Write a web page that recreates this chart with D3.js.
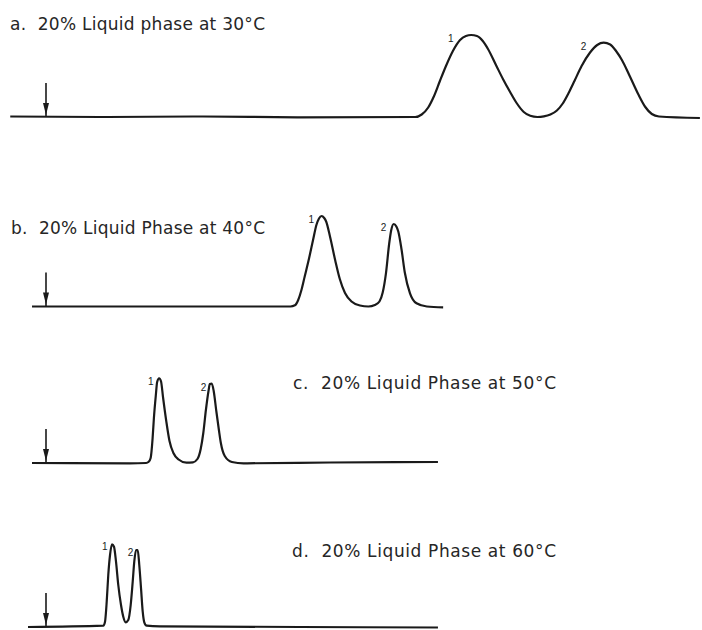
<!DOCTYPE html>
<html>
<head>
<meta charset="utf-8">
<script src="https://cdn.jsdelivr.net/npm/d3@7"></script>
<style>
  body { margin: 0; background: #fff; }
  svg { display: block; }
  .trace { fill: none; stroke: #1a1a1a; stroke-width: 2.2; stroke-linejoin: round; }
  .title { font-family: "DejaVu Sans", "Liberation Sans", sans-serif; font-size: 17px; fill: #262626; }
  .peak { font-family: "Liberation Sans", Arial, sans-serif; font-size: 10px; fill: #222; }
</style>
</head>
<body>
<svg id="chart"></svg>
<script>
// Four chromatograms of the same mixture, column temperature raised 30 -> 60 C
// time axis is arbitrary (same for all four), signal is detector response

const titles = [
  "a.  20% Liquid phase at 30°C",
  "b.  20% Liquid Phase at 40°C",
  "c.  20% Liquid Phase at 50°C",
  "d.  20% Liquid Phase at 60°C"
];

// a. 30 C
const timeA = [-5.5, 8.3, 23.7, 39.1, 56.8, 57.8, 58.8, 59.7, 60.6, 61.6, 62.6, 63.7, 64.6, 65.4, 66.3, 67.2,
  68.0, 69.3, 70.3, 71.4, 72.4, 73.5, 74.5, 75.6, 76.6, 77.6, 78.6, 79.5, 80.4, 81.3, 82.4, 83.7, 84.8, 85.8,
  86.8, 87.7, 88.6, 89.8, 91.1, 92.2, 93.2, 94.3, 100.6];
const signalA = [0.5, 0, 0.5, -0.3, 0, 2.5, 9.5, 21, 36, 52, 66, 77, 81, 82, 81, 76,
  68, 51, 38, 25, 14, 5, 1.2, 0, 0.6, 2.5, 6.5, 13.5, 24, 36, 51, 64.5, 72, 74.3,
  72.5, 66, 57, 41, 23, 10, 3, 0.5, -1];

// b. 40 C
const timeB = [-2.15, 23.7, 37.6, 38.3, 38.8, 39.3, 39.8, 40.5, 41.1, 41.6, 42.0, 42.4, 42.8, 43.1, 43.7, 44.5,
  45.2, 46.0, 47.0, 48.3, 49.6, 50.6, 51.3, 51.8, 52.3, 52.8, 53.1, 53.5, 53.9, 54.2, 54.7, 55.2, 56.0, 57.0,
  58.6, 61.1];
const signalB = [0, 0, 0, 1.2, 6.5, 16.5, 30, 49, 67, 81.5, 88, 90.5, 88.5, 85, 69.8, 46,
  27.5, 13.5, 5, 1, 0, 1.5, 5, 14, 33.2, 63, 76, 82.5, 80, 75, 57, 34, 13.2, 3.2,
  0, -0.8];

// c. 50 C
const timeC = [-2.15, 12.9, 15.4, 15.8, 16.1, 16.4, 16.6, 16.9, 17.1, 17.4, 17.7, 18.0, 18.5, 19.0, 19.6, 20.4,
  21.6, 22.6, 23.3, 23.8, 24.2, 24.6, 25.0, 25.2, 25.5, 25.8, 26.2, 26.6, 26.9, 27.5, 28.6, 30.4, 43.7, 60.3];
const signalC = [0, -0.3, 0, 1.2, 5, 24.7, 45, 68, 81, 84.7, 81.5, 66, 42, 22, 10, 3.5,
  0.3, 0.7, 4, 14, 30, 53, 72, 79, 79.5, 72, 52, 33, 20, 7, 1, -0.3, 0.5, 1];

// d. 60 C
const timeD = [-2.77, 8.82, 9.08, 9.34, 9.58, 9.85, 10.15, 10.46, 10.77, 11.12, 11.54, 11.89, 12.26, 12.66,
  13.03, 13.34, 13.58, 13.85, 14.11, 14.35, 14.62, 14.88, 15.12, 15.49, 17.54, 39.1, 60.3];
const signalD = [0, 1.3, 5.3, 25.3, 52, 72, 82.7, 80.3, 65.3, 42, 22, 10.3, 4.7, 7,
  22, 45.3, 65.3, 77, 77, 62, 38.7, 15.3, 4.7, 1.3, 0.7, 0, -0.5];

const injectionTime = 0;
const arrowSignal = 34;
const peakNames = ["1", "2"];

// layout
const WIDTH = 702, HEIGHT = 630;
const baselines = [117, 306.5, 463, 627];
const titlePos = [[10, 29.5], [11, 233.5], [293, 388.5], [292, 556.5]];
const titleWidth = [255, 254, 263, 264];
const labelShift = [[-23, 7], [-13, 7], [-11, 7], [-10, 6]];

const svg = d3.select("#chart").attr("width", WIDTH).attr("height", HEIGHT);

const x = d3.scaleLinear().domain([0, 100]).range([46, 696]);
const y = d3.scaleLinear().domain([0, 100]).range([0, -100]);

const line = d3.line()
  .x(d => x(d[0]))
  .y(d => y(d[1]))
  .curve(d3.curveMonotoneX);

const series = [[timeA, signalA], [timeB, signalB], [timeC, signalC], [timeD, signalD]];

series.forEach(([ts, ss], i) => {
  const pts = ts.map((t, k) => [t, ss[k]]);
  const g = svg.append("g").attr("transform", `translate(0,${baselines[i]})`);

  g.append("path").attr("class", "trace").attr("d", line(pts));

  // injection arrow
  const ax = x(injectionTime);
  g.append("line")
    .attr("x1", ax).attr("x2", ax)
    .attr("y1", y(arrowSignal)).attr("y2", y(0))
    .attr("stroke", "#1a1a1a").attr("stroke-width", 1.6);
  g.append("path")
    .attr("d", `M${ax - 3},${y(14)} L${ax + 3},${y(14)} L${ax},${y(2)} Z`)
    .attr("fill", "#1a1a1a");

  // peak numbers: find the two local maxima
  const peaks = [];
  for (let k = 1; k < pts.length - 1; k++) {
    if (pts[k][1] > 50 && pts[k][1] >= pts[k - 1][1] && pts[k][1] > pts[k + 1][1]) peaks.push(pts[k]);
  }
  peaks.slice(0, 2).forEach((p, j) => {
    g.append("text").attr("class", "peak")
      .attr("x", x(p[0]) + labelShift[i][0])
      .attr("y", y(p[1]) + labelShift[i][1])
      .text(peakNames[j]);
  });

  svg.append("text").attr("class", "title")
    .attr("x", titlePos[i][0]).attr("y", titlePos[i][1])
    .attr("textLength", titleWidth[i])
    .attr("lengthAdjust", "spacing")
    .style("white-space", "pre")
    .text(titles[i]);
});
</script>
</body>
</html>
